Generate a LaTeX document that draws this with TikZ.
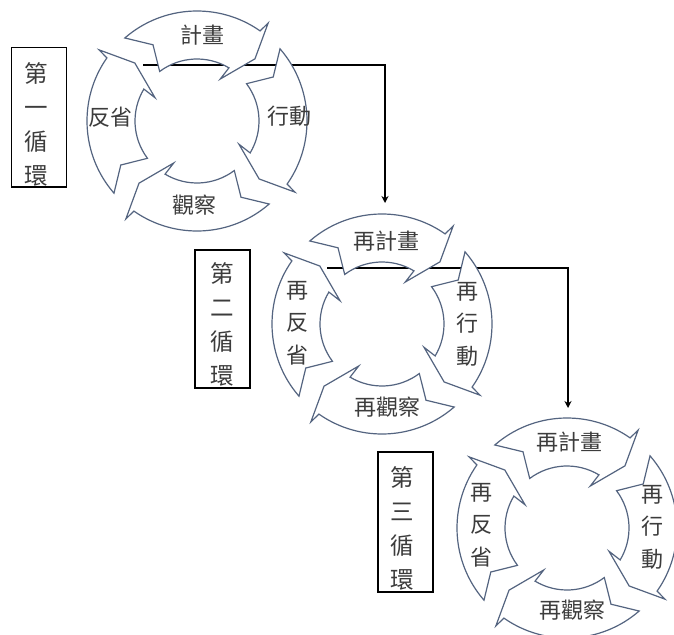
\documentclass[tikz,border=0pt]{standalone}
\usepackage{fontspec}
\newfontfamily\cjk{Noto Sans CJK TC}
\usetikzlibrary{arrows.meta}
\definecolor{outl}{RGB}{84,100,128}
\definecolor{txt}{RGB}{60,60,60}
\newcommand\arpiece[1]{%
  \path[cyc] ({#1+42}:110pt) arc[start angle={#1+42}, end angle={#1-34}, radius=110pt]
    -- ({#1-35}:121pt) -- ({#1-42}:85pt) -- ({#1-28}:48pt) -- ({#1-30}:62pt)
    arc[start angle={#1-30}, end angle={#1+38}, radius=62pt]
    -- ({#1+31}:88pt) -- cycle;}
\begin{document}
\begin{tikzpicture}[x=1pt,y=1pt,
  cyc/.style={draw=outl, fill=white, line width=1.2pt, line join=miter},
  lbl/.style={font=\cjk\fontsize{22}{24}\selectfont, text=txt, inner sep=0pt},
  vlbl/.style={font=\cjk\fontsize{22}{32.5}\selectfont, text=txt, inner sep=0pt, align=center},
  boxtxt/.style={font=\cjk\fontsize{23.5}{34}\selectfont, text=txt, inner sep=0pt, align=center},
  frame/.style={draw=black, line width=1.5pt, inner sep=0pt, minimum width=55pt},
  conn/.style={draw=black, line width=1.8pt, -{Stealth[length=7pt,width=7pt]}}]
\useasboundingbox (0,0) rectangle (674,-634);
\clip (0,0) rectangle (674,-634);
\fill[white] (0,0) rectangle (674,-634);

% connectors (behind the cycles)
\coordinate (c1s) at (143,-65);
\coordinate (c1e) at (385,-203);
\coordinate (c2s) at (327,-268);
\coordinate (c2e) at (568,-408);
\draw[conn] (c1s) -| (c1e);
\draw[conn] (c2s) -| (c2e);

% cycle 1
\begin{scope}[shift={(197,-121)}]
  \arpiece{89}\arpiece{-1}\arpiece{-91}\arpiece{179}
\end{scope}
\node[lbl] (p1) at (202,-35) {計畫};
\node[lbl] (a1) at (289,-116) {行動};
\node[lbl] (o1) at (194,-205) {觀察};
\node[lbl] (r1) at (110.5,-117.5) {反省};

% cycle 2
\begin{scope}[shift={(382,-324)}]
  \arpiece{89}\arpiece{-1}\arpiece{-91}\arpiece{179}
\end{scope}
\node[lbl] (p2) at (386,-241) {再計畫};
\node[vlbl] (a2) at (467,-324) {再\\行\\動};
\node[lbl] (o2) at (387,-407.5) {再觀察};
\node[vlbl] (r2) at (297,-323) {再\\反\\省};

% cycle 3
\begin{scope}[shift={(567,-528)}]
  \arpiece{89}\arpiece{-1}\arpiece{-91}\arpiece{179}
\end{scope}
\node[lbl] (p3) at (569,-442.5) {再計畫};
\node[vlbl] (a3) at (652,-527) {再\\行\\動};
\node[lbl] (o3) at (572,-610) {再觀察};
\node[vlbl] (r3) at (481,-525) {再\\反\\省};

% cycle boxes
\node[frame, minimum height=139.5pt] (b1) at (39,-117.25) {};
\node[boxtxt] (t1) at (36,-124) {第\\一\\循\\環};
\node[frame, minimum height=138pt] (b2) at (222.5,-319) {};
\node[boxtxt] (t2) at (222,-324) {第\\二\\循\\環};
\node[frame, minimum height=140pt] (b3) at (405.5,-522) {};
\node[boxtxt] (t3) at (402,-528) {第\\三\\循\\環};
\end{tikzpicture}
\end{document}
